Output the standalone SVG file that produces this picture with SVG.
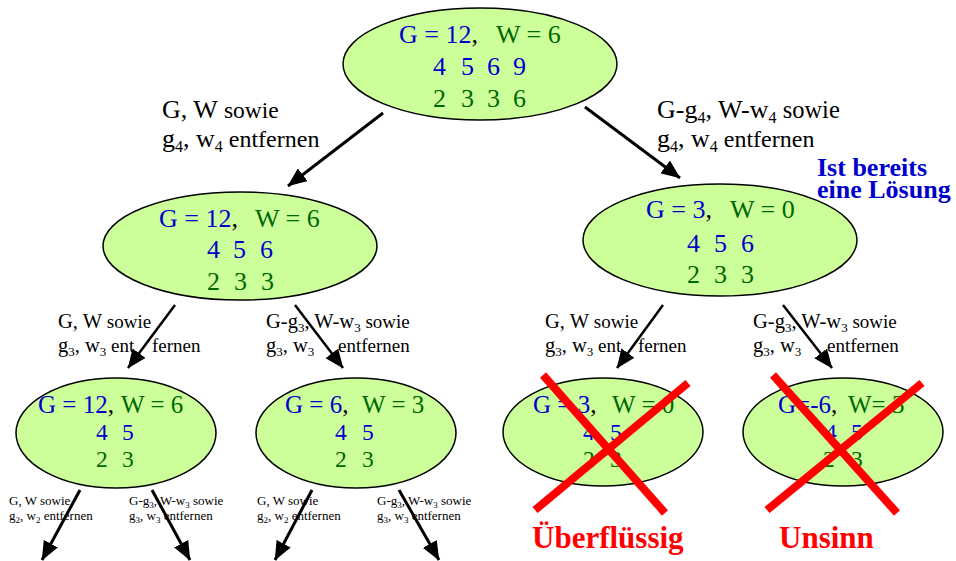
<svg xmlns="http://www.w3.org/2000/svg" width="956" height="561" viewBox="0 0 956 561">
<style>
  text { font-family: "Liberation Serif", "Times New Roman", serif; }
  .node { fill: #ccff99; stroke: #000; stroke-width: 1.5; }
  .b { fill: #0000cc; }
  .g { fill: #006600; }
  .k { fill: #000; }
  .big { font-size: 26px; }
  .mid { font-size: 25px; }
  .dig3 { font-size: 23.5px; }
  .lbl1 { font-size: 26px; fill: #000; }
  .lbl2 { font-size: 20.5px; fill: #000; }
  .lbl3 { font-size: 13px; fill: #000; }
  .conn { stroke: #000; fill: none; marker-end: url(#ah); }
  .cross { stroke: #ff0000; stroke-width: 8; }
  .note { font-size: 26px; font-weight: bold; fill: #0000cc; }
  .warn { font-size: 31px; font-weight: bold; fill: #ff0000; }
</style>
<defs>
  <marker id="ah" markerUnits="userSpaceOnUse" markerWidth="19" markerHeight="16" viewBox="0 0 19 16" refX="18.5" refY="8" orient="auto">
    <path d="M0,0 L19,8 L0,16 z" fill="#000"/>
  </marker>
</defs>
<rect width="956" height="561" fill="#fff"/>

<g id="connectors">
  <line class="conn" stroke-width="3" x1="383" y1="113" x2="288" y2="186"/>
  <line class="conn" stroke-width="3" x1="585" y1="107" x2="680" y2="178"/>
  <line class="conn" stroke-width="2.5" x1="175" y1="305" x2="128" y2="368"/>
  <line class="conn" stroke-width="2.5" x1="295" y1="305" x2="343" y2="368"/>
  <line class="conn" stroke-width="2.5" x1="663" y1="305" x2="617" y2="368"/>
  <line class="conn" stroke-width="2.5" x1="783" y1="305" x2="832" y2="368"/>
  <line class="conn" stroke-width="3" x1="80" y1="490" x2="42" y2="560"/>
  <line class="conn" stroke-width="3" x1="152" y1="490" x2="190" y2="560"/>
  <line class="conn" stroke-width="3" x1="312" y1="490" x2="275" y2="560"/>
  <line class="conn" stroke-width="3" x1="399" y1="490" x2="439" y2="560"/>
</g>

<g id="labels">
  <text class="lbl1" x="162" y="118">G, W <tspan font-size="23.5">sowie</tspan></text>
  <text class="lbl1" x="162" y="147">g<tspan font-size="16" dy="5">4</tspan><tspan dy="-5">, w</tspan><tspan font-size="16" dy="5">4</tspan><tspan dy="-5" font-size="24"> entfernen</tspan></text>
  <text class="lbl1" x="657" y="118">G-g<tspan font-size="16" dy="5">4</tspan><tspan dy="-5">, W-w</tspan><tspan font-size="16" dy="5">4</tspan><tspan dy="-5" font-size="24.5"> sowie</tspan></text>
  <text class="lbl1" x="657" y="147">g<tspan font-size="16" dy="5">4</tspan><tspan dy="-5">, w</tspan><tspan font-size="16" dy="5">4</tspan><tspan dy="-5" font-size="24"> entfernen</tspan></text>

  <text class="lbl2" x="58" y="328">G, W <tspan font-size="19">sowie</tspan></text>
  <text class="lbl2" x="58" y="352">g<tspan font-size="13" dy="4">3</tspan><tspan dy="-4">, w</tspan><tspan font-size="13" dy="4">3</tspan><tspan dy="-4" font-size="19"> ent</tspan><tspan x="152" font-size="19">fernen</tspan></text>
  <text class="lbl2" x="266" y="328">G-g<tspan font-size="13" dy="4">3</tspan><tspan dy="-4">, W-w</tspan><tspan font-size="13" dy="4">3</tspan><tspan dy="-4" font-size="19"> sowie</tspan></text>
  <text class="lbl2" x="266" y="352">g<tspan font-size="13" dy="4">3</tspan><tspan dy="-4">, w</tspan><tspan font-size="13" dy="4">3</tspan><tspan x="338" dy="-4" font-size="19">entfernen</tspan></text>

  <text class="lbl2" x="545" y="328">G, W <tspan font-size="19">sowie</tspan></text>
  <text class="lbl2" x="545" y="352">g<tspan font-size="13" dy="4">3</tspan><tspan dy="-4">, w</tspan><tspan font-size="13" dy="4">3</tspan><tspan dy="-4" font-size="19"> ent</tspan><tspan x="638" font-size="19">fernen</tspan></text>
  <text class="lbl2" x="753" y="328">G-g<tspan font-size="13" dy="4">3</tspan><tspan dy="-4">, W-w</tspan><tspan font-size="13" dy="4">3</tspan><tspan dy="-4" font-size="19"> sowie</tspan></text>
  <text class="lbl2" x="753" y="352">g<tspan font-size="13" dy="4">3</tspan><tspan dy="-4">, w</tspan><tspan font-size="13" dy="4">3</tspan><tspan x="827" dy="-4" font-size="19">entfernen</tspan></text>

  <text class="lbl3" x="9" y="505">G, W sowie</text>
  <text class="lbl3" x="9" y="520">g<tspan font-size="9" dy="3">2</tspan><tspan dy="-3">, w</tspan><tspan font-size="9" dy="3">2</tspan><tspan dy="-3"> entfernen</tspan></text>
  <text class="lbl3" x="129" y="505">G-g<tspan font-size="9" dy="3">3</tspan><tspan dy="-3">, W-w</tspan><tspan font-size="9" dy="3">3</tspan><tspan dy="-3"> sowie</tspan></text>
  <text class="lbl3" x="129" y="520">g<tspan font-size="9" dy="3">3</tspan><tspan dy="-3">, w</tspan><tspan font-size="9" dy="3">3</tspan><tspan dy="-3"> entfernen</tspan></text>
  <text class="lbl3" x="257" y="505">G, W sowie</text>
  <text class="lbl3" x="257" y="520">g<tspan font-size="9" dy="3">2</tspan><tspan dy="-3">, w</tspan><tspan font-size="9" dy="3">2</tspan><tspan dy="-3"> entfernen</tspan></text>
  <text class="lbl3" x="377" y="505">G-g<tspan font-size="9" dy="3">3</tspan><tspan dy="-3">, W-w</tspan><tspan font-size="9" dy="3">3</tspan><tspan dy="-3"> sowie</tspan></text>
  <text class="lbl3" x="377" y="520">g<tspan font-size="9" dy="3">3</tspan><tspan dy="-3">, w</tspan><tspan font-size="9" dy="3">3</tspan><tspan dy="-3"> entfernen</tspan></text>
</g>

<g id="root">
  <ellipse class="node" cx="480" cy="64" rx="137" ry="56"/>
  <text class="big" y="43"><tspan class="b" x="399">G = 12</tspan><tspan class="k">,</tspan><tspan class="g" x="496">W = 6</tspan></text>
  <text class="big b" x="433 461 487 513" y="75">4569</text>
  <text class="big g" x="433 461 487 513" y="107">2336</text>
</g>

<g id="n-left">
  <ellipse class="node" cx="240" cy="246" rx="137" ry="54"/>
  <text class="big" y="227"><tspan class="b" x="159">G = 12</tspan><tspan class="k">,</tspan><tspan class="g" x="255">W = 6</tspan></text>
  <text class="big b" x="207 233 260" y="258">456</text>
  <text class="big g" x="207 234 261" y="290">233</text>
</g>

<g id="n-right">
  <ellipse class="node" cx="720" cy="240" rx="137" ry="56"/>
  <text class="big" y="218"><tspan class="b" x="646">G = 3</tspan><tspan class="k">,</tspan><tspan class="g" x="730">W = 0</tspan></text>
  <text class="big b" x="687 714 741" y="252">456</text>
  <text class="big g" x="687 714 741" y="283">233</text>
</g>

<g id="n-ll">
  <ellipse class="node" cx="116" cy="433" rx="100" ry="55"/>
  <text class="mid" y="413"><tspan class="b" x="38">G = 12</tspan><tspan class="k">,</tspan><tspan class="g" x="121">W = 6</tspan></text>
  <text class="dig3 b" x="96 122" y="440">45</text>
  <text class="dig3 g" x="96 122" y="467">23</text>
</g>

<g id="n-lr">
  <ellipse class="node" cx="356" cy="433" rx="100" ry="55"/>
  <text class="mid" y="413"><tspan class="b" x="285">G = 6</tspan><tspan class="k">,</tspan><tspan class="g" x="362">W = 3</tspan></text>
  <text class="dig3 b" x="335 362" y="440">45</text>
  <text class="dig3 g" x="335 362" y="467">23</text>
</g>

<g id="n-rl">
  <ellipse class="node" cx="603" cy="432" rx="100" ry="54"/>
  <text class="mid" y="413"><tspan class="b" x="533">G = 3</tspan><tspan class="k">,</tspan><tspan class="g" x="612">W = 0</tspan></text>
  <text class="dig3 b" x="583 610" y="440">45</text>
  <text class="dig3 g" x="583 610" y="467">23</text>
  <line class="cross" x1="543" y1="375" x2="665" y2="513"/>
  <line class="cross" x1="688" y1="383" x2="535" y2="510"/>
</g>

<g id="n-rr">
  <ellipse class="node" cx="843" cy="432" rx="100" ry="54"/>
  <text class="mid" y="413"><tspan class="b" x="778">G=-6</tspan><tspan class="k">,</tspan><tspan class="g" x="848">W= 3</tspan></text>
  <text class="dig3 b" x="825 851" y="440">45</text>
  <text class="dig3 g" x="823 851" y="467">23</text>
  <line class="cross" x1="773" y1="375" x2="897" y2="513"/>
  <line class="cross" x1="922" y1="383" x2="767" y2="510"/>
</g>

<g id="notes">
  <text class="note" x="817" y="176">Ist bereits</text>
  <text class="note" x="817" y="198">eine Lösung</text>
  <text class="warn" x="532" y="548">Überflüssig</text>
  <text class="warn" x="779" y="548">Unsinn</text>
</g>
</svg>
